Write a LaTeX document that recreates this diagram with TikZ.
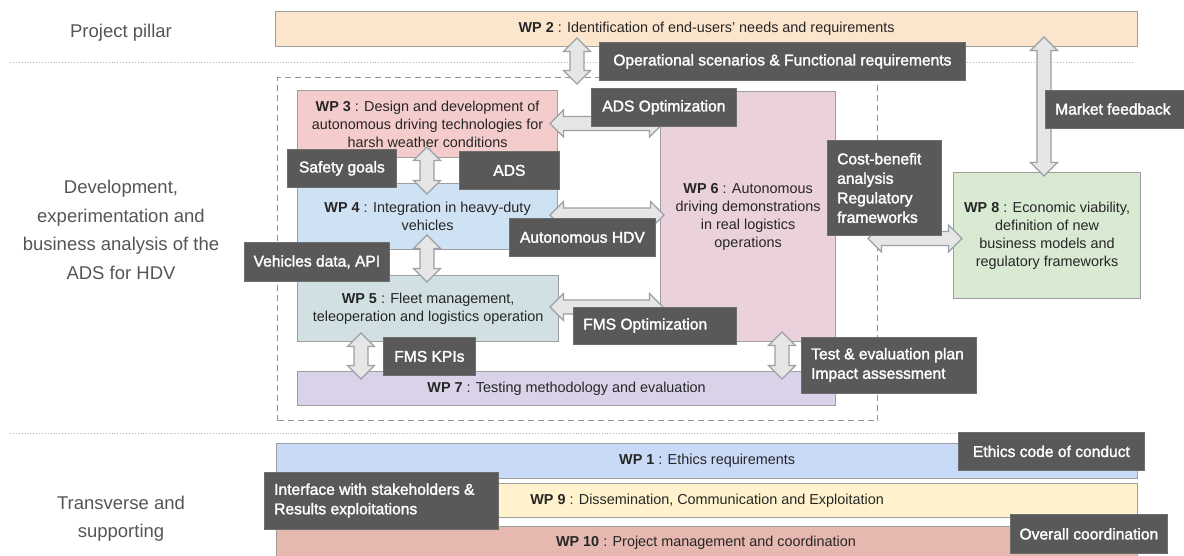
\documentclass[tikz,border=0pt]{standalone}
\usepackage{fontspec}
\setmainfont{Liberation Sans}
\newfontfamily\lblfont{Liberation Sans}[FakeBold=1.8]
\usetikzlibrary{calc}
\definecolor{cwpa}{HTML}{FCE5CD}
\definecolor{cwpb}{HTML}{F4CCCC}
\definecolor{cwpc}{HTML}{CFE2F3}
\definecolor{cwpd}{HTML}{D0E0E3}
\definecolor{cwpe}{HTML}{EAD1DC}
\definecolor{cwpf}{HTML}{D9D2E9}
\definecolor{cwpg}{HTML}{D9EAD3}
\definecolor{cwph}{HTML}{C9DAF8}
\definecolor{cwpi}{HTML}{FFF2CC}
\definecolor{cwpj}{HTML}{E6B8AF}
\definecolor{boxline}{HTML}{9E9E9E}
\definecolor{lblfill}{HTML}{595959}
\definecolor{lblline}{HTML}{6E6E6E}
\definecolor{arrfill}{HTML}{E6E6E6}
\definecolor{arrline}{HTML}{9AA0A6}
\definecolor{dashline}{HTML}{8C97A6}
\definecolor{sidetxt}{HTML}{555555}
\definecolor{wptxt}{HTML}{262626}
\newcommand\vdarrow[3]{\draw[barrow] (#1,#2) -- (#1+13.5,#2+13.5) -- (#1+7,#2+13.5) -- (#1+7,#3-13.5) -- (#1+13.5,#3-13.5) -- (#1,#3) -- (#1-13.5,#3-13.5) -- (#1-7,#3-13.5) -- (#1-7,#2+13.5) -- (#1-13.5,#2+13.5) -- cycle;}
\newcommand\hdarrow[3]{\draw[barrow] (#2,#1) -- (#2+13.5,#1-13.5) -- (#2+13.5,#1-7) -- (#3-13.5,#1-7) -- (#3-13.5,#1-13.5) -- (#3,#1) -- (#3-13.5,#1+13.5) -- (#3-13.5,#1+7) -- (#2+13.5,#1+7) -- (#2+13.5,#1+13.5) -- cycle;}
\begin{document}
\begin{tikzpicture}[x=1pt,y=-1pt,
  wpbox/.style={draw=boxline, line width=1.2pt, inner sep=0pt, align=center, text=wptxt,
    font={\fontsize{14.4}{18}\selectfont}, anchor=north west},
  lbl/.style={draw=lblline, line width=0.8pt, fill=lblfill, inner sep=0pt, text=white,
    font={\lblfont\fontsize{15.6}{19.5}\selectfont}, anchor=north west},
  lbltext/.style={inner sep=0pt, text=white, align=left, anchor=west,
    font={\lblfont\fontsize{15.6}{19.5}\selectfont}},
  side/.style={align=center, text=sidetxt, font={\fontsize{18.5}{28.5}\selectfont}},
  barrow/.style={draw=arrline, line width=1.1pt, fill=arrfill, line join=miter},
  sep/.style={draw=black!30, line width=0.9pt, dotted}]
\useasboundingbox (0,0) rectangle (1184,556);
% side labels
\node[side] (pp) at (121,33) {Project pillar};
\node[side] (dev) at (121,230) {Development,\\experimentation and\\business analysis of the\\ADS for HDV};
\node[side] (trs) at (121,518.5) {Transverse and\\supporting};
% separators
\coordinate (s1a) at (10,62); \coordinate (s1b) at (1134,62);
\coordinate (s2a) at (10,433); \coordinate (s2b) at (1137,433);
\draw[sep] (s1a) -- (s1b);
\draw[sep] (s2a) -- (s2b);
% dashed frame
\node[draw=dashline, line width=1.2pt, dash pattern=on 6pt off 4pt, inner sep=0pt, anchor=north west,
  minimum width=600pt, minimum height=343pt] (frame) at (277,77) {};
% WP boxes
\node[wpbox, fill=cwpa, minimum width=862pt, minimum height=35pt] (wp2) at (275,11) {\textbf{WP 2} : Identification of end-users’ needs and requirements};
\node[wpbox, fill=cwpb, minimum width=260pt, minimum height=67pt] (wp3) at (297,90) {\textbf{WP 3} : Design and development of\\autonomous driving technologies for\\harsh weather conditions};
\node[wpbox, fill=cwpc, minimum width=260pt, minimum height=66pt] (wp4) at (297,183) {\textbf{WP 4} : Integration in heavy-duty\\vehicles};
\node[wpbox, fill=cwpd, minimum width=261pt, minimum height=66pt] (wp5) at (297,275) {\textbf{WP 5} : Fleet management,\\teleoperation and logistics operation};
\node[wpbox, fill=cwpe, minimum width=175pt, minimum height=250pt] (wp6) at (660,91) {\textbf{WP 6} : Autonomous\\driving demonstrations\\in real logistics\\operations};
\node[wpbox, fill=cwpf, minimum width=538pt, minimum height=34pt] (wp7) at (297,371) {\textbf{WP 7} : Testing methodology and evaluation};
\node[wpbox, fill=cwpg, minimum width=187pt, minimum height=126pt] (wp8) at (953,172) {\textbf{WP 8} : Economic viability,\\definition of new\\business models and\\regulatory frameworks};
\node[wpbox, fill=cwph, minimum width=861pt, minimum height=35pt] (wp1) at (276,443) {\textbf{WP 1} : Ethics requirements};
\node[wpbox, fill=cwpi, minimum width=861pt, minimum height=34pt] (wp9) at (276,483) {\textbf{WP 9} : Dissemination, Communication and Exploitation};
\node[wpbox, fill=cwpj, minimum width=861pt, minimum height=32pt, text depth=0pt] (wp10) at (276,526) {};
\node[inner sep=0pt, text=wptxt, font={\fontsize{14.4}{18}\selectfont}] (wp10t) at (706,543) {\textbf{WP 10} : Project management and coordination};
% block arrows
\vdarrow{577}{38}{84}
\vdarrow{427}{147}{194}
\vdarrow{427}{235}{282}
\vdarrow{361}{333}{379}
\vdarrow{782}{332}{379}
\vdarrow{1044}{37}{176}
\hdarrow{123.5}{550}{663}
\hdarrow{215}{550}{664}
\hdarrow{307}{550}{663}
\hdarrow{238.5}{868}{962}
% dark labels
\node[lbl, minimum width=366pt, minimum height=38pt] (ops) at (599,42) {Operational scenarios \& Functional requirements};
\node[lbl, minimum width=145pt, minimum height=38pt] (adsopt) at (591,88) {ADS Optimization};
\node[lbl, minimum width=109pt, minimum height=38pt] (safety) at (287,149) {Safety goals};
\node[lbl, minimum width=100pt, minimum height=38pt] (ads) at (459,151) {ADS};
\node[lbl, minimum width=146pt, minimum height=38pt] (ahdv) at (509,218) {Autonomous HDV};
\node[lbl, minimum width=145pt, minimum height=39pt] (vdata) at (244,242) {Vehicles data, API};
\node[lbl, minimum width=163pt, minimum height=37pt] (fmsopt) at (573,307) {};
\node[lbltext] (fmsoptt) at (583,325.5) {FMS Optimization};
\node[lbl, minimum width=92pt, minimum height=38pt] (fmskpi) at (383,337) {FMS KPIs};
\node[lbl, minimum width=114pt, minimum height=95pt] (cost) at (827,140) {};
\node[lbltext] (costt) at (837,188) {Cost-benefit\\analysis\\Regulatory\\frameworks};
\node[lbl, minimum width=150pt, minimum height=38pt] (mkt) at (1045,90) {};
\node[lbltext] (mktt) at (1055,109) {Market feedback};
\node[lbl, minimum width=175pt, minimum height=56pt] (test) at (801,337) {};
\node[lbltext] (testt) at (811,365) {Test \& evaluation plan\\Impact assessment};
\node[lbl, minimum width=186pt, minimum height=38pt] (ethics) at (958,432) {Ethics code of conduct};
\node[lbl, minimum width=234pt, minimum height=57pt] (iface) at (264,472) {};
\node[lbltext] (ifacet) at (274,500.5) {Interface with stakeholders \&\\Results exploitations};
\node[lbl, minimum width=157pt, minimum height=39pt] (overall) at (1010,514) {Overall coordination};
\end{tikzpicture}
\end{document}
